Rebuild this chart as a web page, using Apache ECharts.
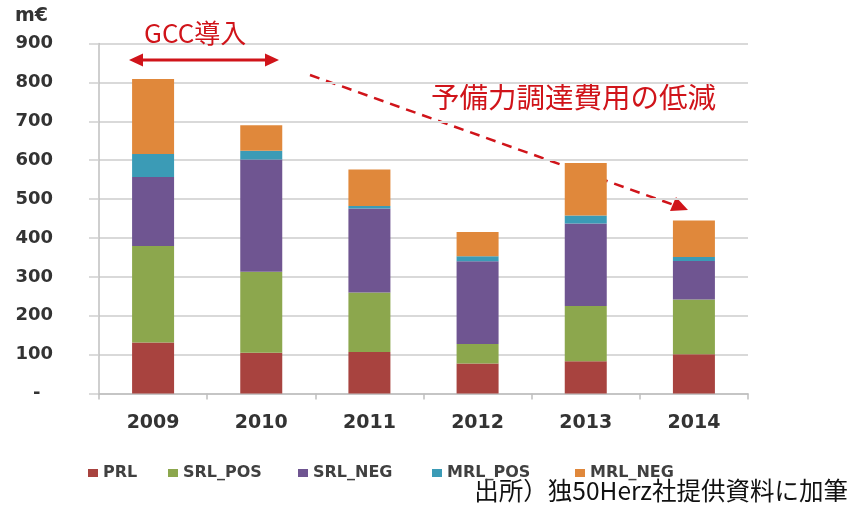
<!DOCTYPE html>
<html>
<head>
<meta charset="utf-8">
<script src="https://cdn.jsdelivr.net/npm/echarts@6/dist/echarts.min.js"></script>
<style>
  html, body { margin: 0; padding: 0; background: #ffffff; }
  #chart { width: 851px; height: 510px; }
</style>
</head>
<body>
<div id="chart"></div>
<script>
// Reserve procurement cost by product, million euro
const years = ['2009', '2010', '2011', '2012', '2013', '2014'];
const PRL     = [131, 105, 107, 77, 83, 101];
const SRL_POS = [248, 208, 153, 50, 142, 141];
const SRL_NEG = [178, 289, 216, 213, 212, 99];
const MRL_POS = [59, 22, 6, 13, 21, 10];
const MRL_NEG = [193, 66, 94, 62, 135, 94];
const yTicks = { min: 0, max: 900, step: 100 };

const seriesDefs = [
  { name: 'PRL',     data: PRL,     color: '#A8433F' },
  { name: 'SRL_POS', data: SRL_POS, color: '#8CA74D' },
  { name: 'SRL_NEG', data: SRL_NEG, color: '#6F5591' },
  { name: 'MRL_POS', data: MRL_POS, color: '#3B9BB6' },
  { name: 'MRL_NEG', data: MRL_NEG, color: '#E0883B' }
];

const RED = '#D0141A';
const labelFont = 'DejaVu Sans';
const jpFont = '"Noto Sans CJK JP", "Noto Sans", sans-serif';
const legendLeft = [88, 168, 298, 432, 575];

const chart = echarts.init(document.getElementById('chart'));

chart.setOption({
  animation: false,
  backgroundColor: '#ffffff',
  grid: { left: 99, right: 103, top: 43.5, bottom: 116.5 },
  legend: seriesDefs.map((s, i) => ({
    data: [s.name],
    left: legendLeft[i],
    top: 465,
    itemWidth: 10,
    itemHeight: 8,
    itemGap: 0,
    icon: 'rect',
    padding: 0,
    textStyle: { fontFamily: labelFont, fontWeight: 'bold', fontSize: 16, color: '#404040' }
  })),
  xAxis: {
    type: 'category',
    data: years,
    axisLine: { lineStyle: { color: '#bfbfbf', width: 1.5 } },
    axisTick: { show: true, length: 6, lineStyle: { color: '#bfbfbf', width: 1.5 } },
    axisLabel: { margin: 20, fontFamily: labelFont, fontWeight: 'bold', fontSize: 19, color: '#333333' },
    splitLine: { show: false }
  },
  yAxis: {
    type: 'value',
    min: yTicks.min,
    max: yTicks.max,
    interval: yTicks.step,
    axisLine: { show: true, lineStyle: { color: '#bfbfbf', width: 1.5 } },
    axisTick: { show: true, length: 10, lineStyle: { color: '#d0d0d0', width: 1.5 } },
    axisLabel: {
      margin: 46,
      fontFamily: labelFont, fontWeight: 'bold', fontSize: 18, color: '#333333',
      formatter: v => (v === 0 ? '-  ' : String(v))
    },
    splitLine: { lineStyle: { color: '#d9d9d9', width: 2 } }
  },
  series: seriesDefs.map(s => ({
    name: s.name,
    type: 'bar',
    stack: 'total',
    barWidth: 42,
    data: s.data,
    itemStyle: { color: s.color }
  })),
  graphic: [
    { type: 'text', left: 15, top: 7, z: 10,
      style: { text: 'm€', font: 'bold 19px "DejaVu Sans"', fill: '#333333' } },
    { type: 'text', left: 144, top: 20, z: 10,
      style: { text: 'GCC導入', font: '26px ' + jpFont, fill: RED } },
    // double-headed arrow
    { type: 'line', shape: { x1: 140, y1: 60, x2: 267, y2: 60 },
      style: { stroke: RED, lineWidth: 3 } },
    { type: 'polygon', shape: { points: [[129, 60], [143, 53.5], [143, 66.5]] },
      style: { fill: RED } },
    { type: 'polygon', shape: { points: [[279, 60], [265, 53.5], [265, 66.5]] },
      style: { fill: RED } },
    { type: 'text', left: 431, top: 83,
      style: { text: '予備力調達費用の低減', font: '28.5px ' + jpFont, fill: RED } },
    // dashed trend arrow
    { type: 'line', shape: { x1: 310, y1: 75, x2: 674, y2: 205 },
      style: { stroke: RED, lineWidth: 2.5, lineDash: [10, 7] } },
    { type: 'polygon', shape: { points: [[688, 210], [670, 211], [676, 197]] },
      style: { fill: RED } },
    { type: 'text', right: 3, top: 478,
      style: { text: '出所）独50Herz社提供資料に加筆', font: '24.5px ' + jpFont, fill: '#111111' } }
  ]
});
</script>
</body>
</html>
